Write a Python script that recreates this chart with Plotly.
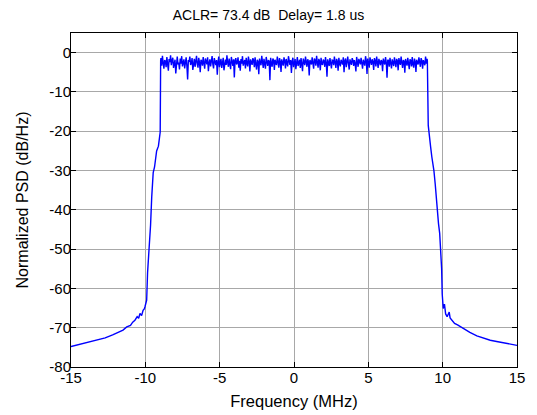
import numpy as np
import plotly.graph_objects as go

# ---- data ----
left_freq = [-15.0, -14.4, -13.6, -12.7, -12.2, -11.8, -11.5, -11.25, -11.0, -10.85, -10.7,
             -10.55, -10.45, -10.36, -10.25, -10.15, -10.07, -10.02, -9.91, -9.85, -9.78,
             -9.73, -9.65, -9.57, -9.52, -9.47, -9.38, -9.30, -9.24, -9.12, -9.0, -8.97]
left_psd = [-74.8, -74.2, -73.4, -72.6, -71.8, -71.1, -70.6, -69.8, -69.4, -68.6, -68.1,
            -67.2, -67.6, -66.4, -66.9, -65.6, -65.2, -64.6, -63.0, -56.0, -52.5,
            -49.4, -44.0, -36.7, -34.0, -30.5, -29.1, -27.0, -25.0, -23.8, -20.2, -2.0]

inband_psd = [
    -1.4, -3.3, -0.8, -2.6, -4.1, -1.9, -2.2, -3.7, -1.1, -2.9,
    -4.6, -1.6, -2.4, -0.7, -3.2, -2.0, -1.3, -3.9, -2.7, -1.8,
    -5.3, -2.1, -1.0, -3.0, -2.5, -4.3, -1.5, -2.8, -0.9, -3.5,
    -2.2, -1.7, -4.0, -2.6, -1.2, -3.4, -6.8, -1.9, -2.3, -1.0,
    -3.1, -2.7, -1.4, -4.4, -2.0, -1.6, -3.6, -2.4, -0.8, -2.9,
    -3.8, -1.3, -2.5, -5.0, -1.8, -2.2, -3.3, -1.1, -2.8, -4.1,
    -1.5, -2.0, -3.0, -1.2, -4.7, -2.6, -1.7, -3.5, -2.3, -0.9,
    -2.9, -4.0, -1.4, -2.1, -3.2, -1.9, -5.6, -2.4, -1.0, -3.7,
    -2.2, -1.6, -3.9, -2.7, -1.3, -4.5, -2.0, -1.8, -3.1, -0.7,
    -2.5, -3.6, -1.5, -2.9, -4.2, -1.1, -2.3, -3.4, -1.7, -6.3,
    -2.0, -1.4, -3.0, -2.6, -1.2, -3.8, -2.1, -4.6, -1.6, -2.8,
    -0.9, -3.3, -2.4, -1.9, -4.0, -1.3, -2.7, -3.5, -1.0, -2.2,
    -4.8, -1.7, -2.5, -3.1, -1.4, -2.0, -3.7, -1.2, -2.9, -4.3,
    -1.8, -2.3, -5.5, -1.5, -2.6, -3.2, -0.8, -2.1, -3.9, -1.6,
    -2.8, -4.1, -1.1, -2.4, -3.4, -1.9, -2.2, -7.0, -1.3, -2.7,
    -3.6, -1.5, -2.0, -4.4, -1.8, -2.9, -3.0, -1.0, -2.5, -3.8,
    -1.4, -2.3, -4.9, -1.7, -2.6, -3.3, -1.2, -2.1, -4.0, -1.6,
    -2.7, -3.5, -0.9, -2.4, -3.1, -1.9, -5.2, -2.2, -1.3, -3.7,
    -2.0, -1.6, -4.2, -2.8, -1.1, -3.4, -2.5, -1.8, -3.9, -1.4,
    -2.9, -4.7, -1.5, -2.1, -3.2, -1.0, -2.6, -3.6, -1.7, -2.3,
    -5.8, -1.9, -2.4, -3.0, -1.2, -2.7, -4.1, -1.5, -2.0, -3.3,
    -0.8, -2.5, -3.8, -1.6, -2.2, -4.5, -1.3, -2.9, -3.1, -1.8,
    -2.1, -3.6, -1.1, -2.6, -6.1, -1.7, -2.3, -3.4, -1.4, -2.8,
    -4.0, -1.9, -2.0, -3.2, -1.0, -2.5, -3.9, -1.6, -2.2, -4.6,
    -1.3, -2.7, -3.5, -1.8, -2.4, -3.0, -1.2, -5.0, -2.1, -1.5,
    -3.7, -2.6, -1.0, -2.9, -4.3, -1.7, -2.3, -3.1, -1.4, -2.0,
    -3.4, -1.9, -2.8, -4.8, -1.1, -2.5, -3.6, -1.6, -2.2, -3.0,
    -1.3, -2.7, -4.1, -1.8, -2.4, -3.3, -0.9, -2.0, -5.4, -1.5,
    -2.6, -3.8, -1.2, -2.9, -3.1, -1.7, -2.3, -4.4, -1.4, -2.1,
    -3.5, -1.0, -2.5, -3.9, -1.6, -2.8, -3.2, -1.9, -2.2, -4.7,
    -1.5, -2.4, -3.0, -1.1, -2.6, -6.4, -1.8, -2.0, -3.6, -1.3,
    -2.9, -4.0, -1.7, -2.3, -3.4, -1.2, -2.7, -3.7, -1.6, -2.1,
    -4.5, -1.4, -2.5, -3.1, -1.0, -2.8, -3.9, -1.9, -2.2, -5.1,
    -1.6, -2.6, -3.3, -1.3, -2.4, -4.2, -1.7, -2.0, -3.5, -1.1,
    -2.9, -3.8, -1.5, -2.3, -4.9, -1.8, -2.7, -3.0, -1.2, -2.5,
    -3.6, -1.4, -2.1, -4.1, -1.9, -2.6, -3.2, -1.0, -2.8, -1.6,
]
inband_start, inband_stop = -8.95, 8.95

right_freq = [8.97, 9.03, 9.10, 9.19, 9.27, 9.34, 9.41, 9.50, 9.57, 9.63, 9.72, 9.80, 9.86,
              9.93, 9.97, 10.04, 10.12, 10.2, 10.3, 10.38, 10.44, 10.5, 10.6, 10.8, 11.0,
              11.16, 11.5, 11.83, 12.3, 12.73, 13.2, 13.63, 14.4, 15.0]
right_psd = [-2.0, -18.5, -21.5, -24.0, -26.5, -27.8, -30.0, -33.5, -37.0, -40.1, -43.5, -46.0, -49.4,
             -55.0, -61.5, -65.1, -64.0, -66.5, -67.2, -66.4, -66.0, -67.5, -68.0, -68.9, -69.3,
             -69.7, -70.6, -71.2, -72.1, -72.7, -73.2, -73.5, -74.0, -74.5]

x_ticks = [-15, -10, -5, 0, 5, 10, 15]
x_ticktext = ["-15", "-10", "-5", "0", "5", "10", "15"]
y_ticks = [-80, -70, -60, -50, -40, -30, -20, -10, 0]
y_ticktext = ["-80", "-70", "-60", "-50", "-40", "-30", "-20", "-10", "0"]

title_text = "ACLR= 73.4 dB\u00a0 Delay= 1.8 us"

# ---- assemble ----
inband_freq = np.linspace(inband_start, inband_stop, len(inband_psd))
freq = np.concatenate([left_freq, inband_freq, right_freq])
psd = np.concatenate([left_psd, inband_psd, right_psd])

font_family = "Liberation Sans, Arial, Helvetica, sans-serif"

fig = go.Figure(go.Scatter(x=freq, y=psd, mode="lines",
                           line=dict(color="#0000ff", width=1.4)))

axis_common = dict(showline=True, linecolor="black", linewidth=1, mirror="ticks",
                   ticks="inside", ticklen=5, tickcolor="black",
                   showgrid=True, gridcolor="#a8a8a8", gridwidth=1, zeroline=False,
                   automargin=False,
                   tickfont=dict(family=font_family, size=15, color="black"))

fig.update_layout(
    width=537, height=415,
    margin=dict(l=71, r=20, t=33, b=48),
    paper_bgcolor="white", plot_bgcolor="white",
    showlegend=False,
    title=dict(text=title_text, x=0.5, xanchor="center", y=1 - 15 / 415, yanchor="middle",
               font=dict(family=font_family, size=14, color="black")),
    font=dict(family=font_family, color="black"),
)
fig.update_xaxes(range=[-15, 15], tickvals=x_ticks, ticktext=x_ticktext,
                 ticklabelstandoff=-3,
                 title=dict(text="Frequency (MHz)", font=dict(family=font_family, size=16.5),
                            standoff=10),
                 **axis_common)
fig.update_yaxes(range=[-80, 5], tickvals=y_ticks, ticktext=y_ticktext,
                 ticklabelstandoff=-4,
                 title=dict(text="Normalized PSD (dB/Hz)", font=dict(family=font_family, size=16),
                            standoff=16),
                 **axis_common)

# remove the default 8px page margin so the figure sits at the window's corner
fig.write_html("out.html", config={"displayModeBar": False},
               post_script="document.body.style.margin='0';")
